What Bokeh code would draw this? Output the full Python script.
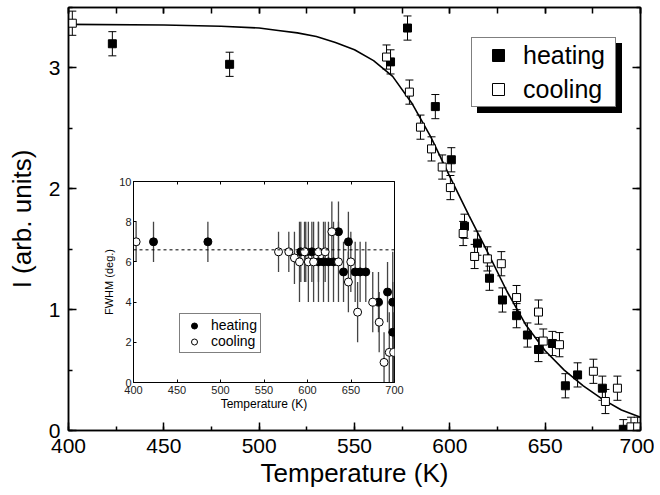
import numpy as np
from bokeh.plotting import figure
from bokeh.models import (Range1d, LinearAxis, SingleIntervalTicker, ColumnDataSource,
                          Whisker, TeeHead, Legend, LegendItem, Span, PrintfTickFormatter)
from bokeh.embed import file_html
from bokeh.resources import INLINE

FONT = "Liberation Sans"

# ---------------- main plot data ----------------
heat_T = [423, 484.5, 568.9, 577.8, 592.4, 600.8, 607.7, 614.5, 620.8, 627.6, 635, 640.7,
          646.5, 653.8, 660.6, 667, 680, 691]
heat_I = [3.20, 3.03, 3.05, 3.33, 2.68, 2.24, 1.69, 1.55, 1.26, 1.08, 0.95, 0.79,
          0.67, 0.72, 0.37, 0.46, 0.35, 0.01]
heat_err = [0.1] * 17 + [0.08]

cool_T = [402, 566.8, 578.8, 584.6, 590.4, 596, 600.3, 607, 613, 619.7, 627, 635, 646.5,
          649, 657.5, 675.3, 681.6, 687.9, 695, 698.5]
cool_I = [3.37, 3.09, 2.80, 2.51, 2.33, 2.18, 2.01, 1.63, 1.44, 1.42, 1.38, 1.10, 0.98,
          0.74, 0.71, 0.49, 0.24, 0.35, 0.03, 0.03]
cool_err = [0.1] * 18 + [0.08, 0.08]

fit_T = [400, 450, 480, 500, 510, 520, 530, 540, 550, 560, 570, 580, 590, 600, 610, 620,
         630, 640, 650, 660, 670, 680, 690, 700]
fit_I = [3.36, 3.355, 3.345, 3.33, 3.31, 3.29, 3.26, 3.21, 3.15, 3.06, 2.93, 2.71, 2.43,
         2.10, 1.78, 1.47, 1.15, 0.87, 0.66, 0.50, 0.37, 0.26, 0.17, 0.11]

# ---------------- inset data ----------------
ih_T = [423, 485.5, 592.3, 598, 605, 612.6, 618.4, 624.1, 629.9, 635.6, 641.4, 647,
        654.8, 660.5, 667, 681.6, 692, 698, 698]
ih_F = [7.0, 7.0, 6.5, 6.5, 6.5, 6.0, 6.0, 6.0, 6.0, 7.5, 5.5, 7.0,
        5.5, 5.5, 5.5, 4.0, 4.5, 4.0, 2.5]
ih_err = [1.0, 1.0, 1.5, 1.5, 1.5, 2.0, 2.0, 2.0, 2.0, 1.5, 1.5, 1.5,
          1.5, 1.5, 1.5, 1.5, 1.5, 2.5, 2.5]

ic_T = [403, 566.7, 578.5, 585, 590.8, 596.6, 601, 607, 612.6, 620.3, 628, 635.6, 647,
        649.8, 657.6, 675, 682.4, 688, 694, 699]
ic_F = [7.0, 6.5, 6.5, 6.2, 6.0, 6.5, 6.0, 6.0, 6.5, 6.5, 7.5, 6.0, 5.0,
        6.0, 3.5, 4.0, 3.0, 1.0, 1.5, 1.5]
ic_err = [1.0, 1.0, 1.0, 1.3, 2.0, 1.5, 2.0, 2.0, 1.5, 1.5, 1.5, 2.0, 1.5,
          1.5, 1.5, 1.5, 1.5, 1.5, 2.0, 2.0]

fwhm_mean = 6.6


def style_axis(ax, lab_size, title_size, tin, tmin):
    ax.major_tick_in = tin
    ax.major_tick_out = 0
    ax.minor_tick_in = tmin
    ax.minor_tick_out = 0
    ax.major_label_text_font = FONT
    ax.major_label_text_font_size = lab_size
    ax.major_label_text_color = "black"
    ax.axis_label_text_font = FONT
    ax.axis_label_text_font_size = title_size
    ax.axis_label_text_font_style = "normal"
    ax.axis_label_text_color = "black"
    ax.axis_line_color = "black"
    ax.major_tick_line_color = "black"
    ax.minor_tick_line_color = "black"


# ================= main figure =================
p = figure(frame_width=572, frame_height=423, x_range=Range1d(400, 700), y_range=Range1d(0, 3.5),
           output_backend="svg", toolbar_location=None,
           min_border_left=68, min_border_right=14, min_border_top=7, min_border_bottom=65,
           x_axis_label="Temperature (K)", y_axis_label="I (arb. units)")
p.grid.visible = False
p.outline_line_color = "black"
p.outline_line_width = 1.5
p.background_fill_color = "white"
p.border_fill_color = "white"

p.xaxis.ticker = SingleIntervalTicker(interval=50, num_minor_ticks=2)
p.yaxis.ticker = SingleIntervalTicker(interval=1, num_minor_ticks=2)
for ax in (p.xaxis[0], p.yaxis[0]):
    style_axis(ax, "21px", "26px", 8, 4)
    ax.axis_line_width = 1.5
    ax.major_tick_line_width = 1.5
    ax.minor_tick_line_width = 1.5
p.xaxis.major_label_standoff = 8
p.xaxis.axis_label_standoff = 2
p.yaxis.major_label_standoff = 8
p.yaxis.axis_label_standoff = 9

top_ax = LinearAxis(ticker=SingleIntervalTicker(interval=50, num_minor_ticks=2),
                    formatter=PrintfTickFormatter(format=""))
right_ax = LinearAxis(ticker=SingleIntervalTicker(interval=1, num_minor_ticks=2),
                      formatter=PrintfTickFormatter(format=""))
for ax, tin, tmin in ((top_ax, 6, 6), (right_ax, 8, 4)):
    style_axis(ax, "0px", "0px", tin, tmin)
    ax.major_label_standoff = 0
    ax.axis_line_width = 1.5
    ax.major_tick_line_width = 1.5
    ax.minor_tick_line_width = 1.5
p.add_layout(top_ax, "above")
p.add_layout(right_ax, "right")

p.line(fit_T, fit_I, line_color="black", line_width=1.6)

hsrc = ColumnDataSource(dict(T=heat_T, I=heat_I,
                             up=list(np.array(heat_I) + np.array(heat_err)),
                             lo=list(np.array(heat_I) - np.array(heat_err))))
csrc = ColumnDataSource(dict(T=cool_T, I=cool_I,
                             up=list(np.array(cool_I) + np.array(cool_err)),
                             lo=list(np.array(cool_I) - np.array(cool_err))))
for src in (hsrc, csrc):
    w = Whisker(source=src, base="T", upper="up", lower="lo", dimension="height",
                line_color="black", line_width=1,
                upper_head=TeeHead(size=8, line_color="black", line_width=1),
                lower_head=TeeHead(size=8, line_color="black", line_width=1))
    p.add_layout(w)

rh = p.scatter("T", "I", source=hsrc, marker="square", size=8,
               fill_color="black", line_color="black", line_width=1)
rc = p.scatter("T", "I", source=csrc, marker="square", size=8,
               fill_color="white", line_color="black", line_width=1)

# shadow legend (black box, empty labels) + legend
sh_h = p.scatter(x=[], y=[], marker="square", size=8, fill_color="black", line_color="black")
sh_c = p.scatter(x=[], y=[], marker="square", size=8, fill_color="black", line_color="black")

leg_kw = dict(label_text_font=FONT, padding=2, spacing=4,
              label_height=30, glyph_height=30, glyph_width=48, label_standoff=1,
              label_width=90, margin=0, border_line_width=1)
shadow = Legend(items=[LegendItem(label="", renderers=[sh_h]),
                       LegendItem(label="", renderers=[sh_c])],
                location=(409, 317), background_fill_color="black", background_fill_alpha=1,
                border_line_color="black", label_text_color="black",
                label_text_font_size="2px", **leg_kw)
legend = Legend(items=[LegendItem(label="heating", renderers=[rh]),
                       LegendItem(label="cooling", renderers=[rc])],
                location=(403, 323), background_fill_color="white", background_fill_alpha=1,
                border_line_color="black", label_text_color="black",
                label_text_font_size="25px", **leg_kw)
p.add_layout(shadow, "center")
p.add_layout(legend, "center")

# ================= inset figure =================
q = figure(frame_width=261, frame_height=201, x_range=Range1d(400, 700), y_range=Range1d(0, 10),
           output_backend="svg", toolbar_location=None,
           min_border_left=30, min_border_right=12, min_border_top=6, min_border_bottom=31,
           x_axis_label="Temperature (K)", y_axis_label="FWHM (deg.)")
q.grid.visible = False
q.outline_line_color = "black"
q.outline_line_width = 1
q.background_fill_color = "white"
q.border_fill_alpha = 0
q.xaxis.ticker = SingleIntervalTicker(interval=50, num_minor_ticks=0)
q.yaxis.ticker = SingleIntervalTicker(interval=2, num_minor_ticks=0)
style_axis(q.xaxis[0], "11px", "12px", 3, 0)
style_axis(q.yaxis[0], "11px", "11px", 3, 0)
q.xaxis.major_label_standoff = 3
q.xaxis.axis_label_standoff = 0
q.yaxis.major_label_standoff = 2
q.yaxis.axis_label_standoff = 1
q.xaxis.major_label_text_color = "#222222"
q.yaxis.major_label_text_color = "#222222"
qt = LinearAxis(ticker=SingleIntervalTicker(interval=50, num_minor_ticks=0),
                formatter=PrintfTickFormatter(format=""))
style_axis(qt, "0px", "0px", 3, 0)
qt.major_label_standoff = 0
q.add_layout(qt, "above")

q.add_layout(Span(location=fwhm_mean, dimension="width", line_color="black",
                  line_width=1, line_dash="3 3"))

ihs = ColumnDataSource(dict(T=ih_T, F=ih_F,
                            up=list(np.array(ih_F) + np.array(ih_err)),
                            lo=list(np.array(ih_F) - np.array(ih_err))))
ics = ColumnDataSource(dict(T=ic_T, F=ic_F,
                            up=list(np.array(ic_F) + np.array(ic_err)),
                            lo=list(np.array(ic_F) - np.array(ic_err))))
for src in (ihs, ics):
    q.segment(x0="T", y0="lo", x1="T", y1="up", source=src, line_color="#444444", line_width=1.3)
qh = q.scatter("T", "F", source=ihs, marker="circle", size=8,
               fill_color="black", line_color="black", line_width=1)
qc = q.scatter("T", "F", source=ics, marker="circle", size=8,
               fill_color="white", line_color="black", line_width=1)

ileg = Legend(items=[LegendItem(label="heating", renderers=[qh]),
                     LegendItem(label="cooling", renderers=[qc])],
              location=(46, 29), label_text_font=FONT, label_text_font_size="14px",
              padding=3, spacing=0, label_height=15, glyph_height=15, glyph_width=22,
              label_standoff=6, margin=0, border_line_color="black", border_line_width=1,
              background_fill_color="white", background_fill_alpha=1, label_text_color="black")
q.add_layout(ileg, "center")

q.styles = {"position": "absolute", "left": "100px", "top": "175px", "z-index": "10"}

open("out.html", "w").write(file_html([p, q], INLINE))
